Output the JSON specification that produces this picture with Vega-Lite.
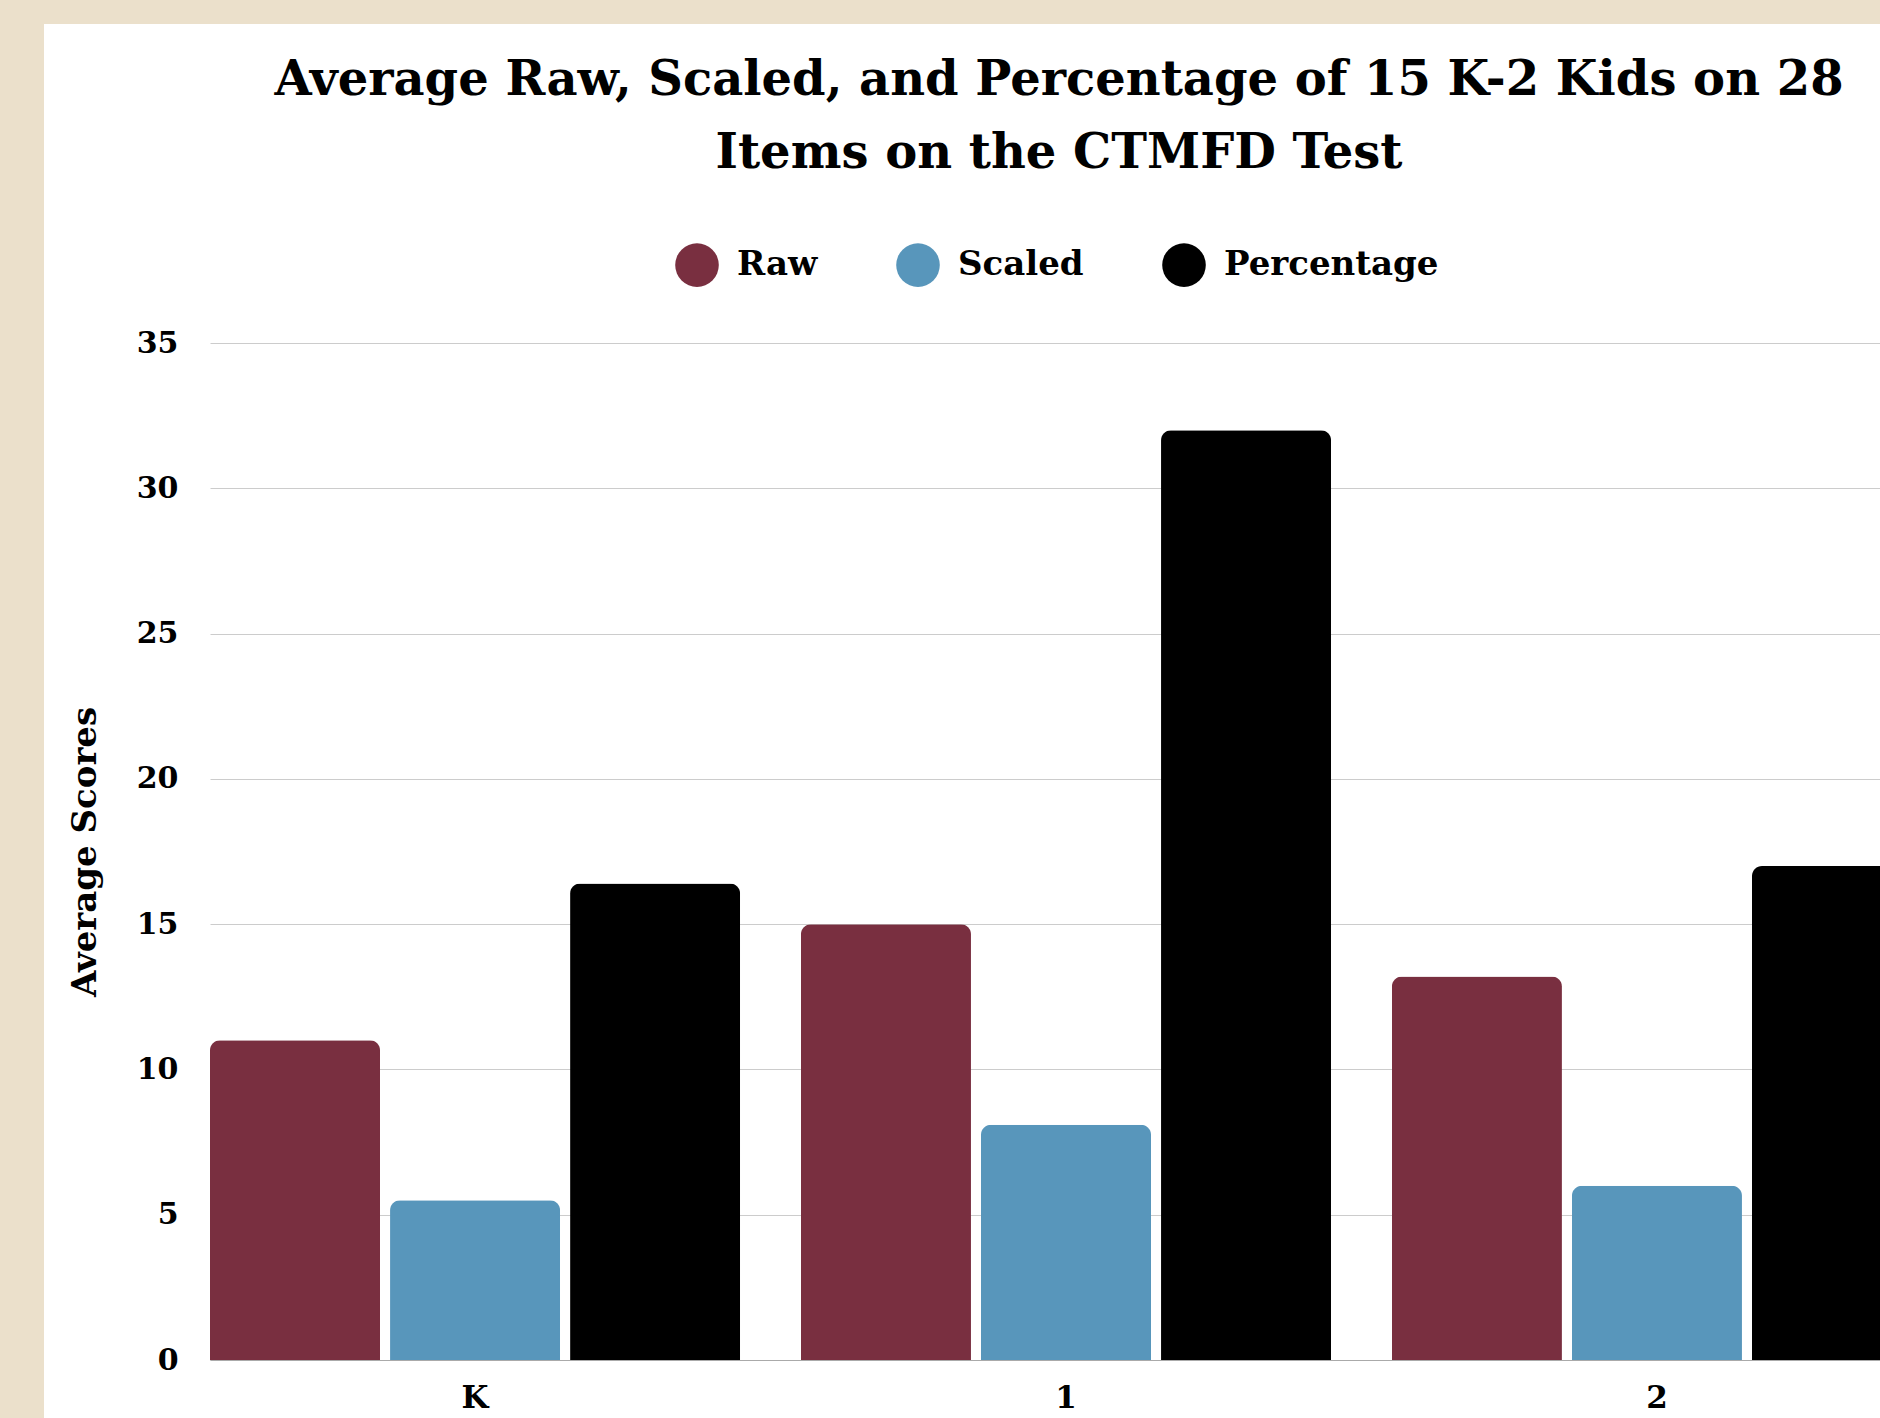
{
  "$schema": "https://vega.github.io/schema/vega-lite/v6.json",
  "autosize": {"type": "none"},
  "width": 1836,
  "height": 1394,
  "padding": {"left": 44, "top": 24, "right": 0, "bottom": 0},
  "background": "#ebe0cb",
  "view": {"fill": "white", "stroke": null},
  "title": {
    "text": ["Average Raw, Scaled, and Percentage of 15 K-2 Kids on 28", "Items on the CTMFD Test"],
    "font": "DejaVu Serif",
    "fontWeight": "bold",
    "fontSize": 48,
    "lineHeight": 73,
    "color": "black",
    "anchor": "middle",
    "frame": "group",
    "dx": 97,
    "offset": -154
  },
  "data": {
    "values": [
      {"Grade": "K", "Measure": "Raw", "Score": 11},
      {"Grade": "K", "Measure": "Scaled", "Score": 5.5},
      {"Grade": "K", "Measure": "Percentage", "Score": 16.4},
      {"Grade": "1", "Measure": "Raw", "Score": 15},
      {"Grade": "1", "Measure": "Scaled", "Score": 8.1},
      {"Grade": "1", "Measure": "Percentage", "Score": 32},
      {"Grade": "2", "Measure": "Raw", "Score": 13.2},
      {"Grade": "2", "Measure": "Scaled", "Score": 6},
      {"Grade": "2", "Measure": "Percentage", "Score": 17}
    ]
  },
  "mark": {"type": "bar", "cornerRadiusTopLeft": 10, "cornerRadiusTopRight": 10},
  "encoding": {
    "x": {
      "field": "Grade",
      "type": "nominal",
      "sort": ["K", "1", "2"],
      "scale": {"range": [166, 1878], "paddingInner": 0.103, "paddingOuter": 0},
      "axis": {
        "title": null,
        "offset": -58,
        "labelAngle": 0,
        "labelFont": "DejaVu Serif",
        "labelFontWeight": "bold",
        "labelFontSize": 31,
        "labelColor": "black",
        "labelPadding": 23,
        "ticks": false,
        "domain": true,
        "domainColor": "#aaaaaa",
        "domainWidth": 1,
        "grid": false
      }
    },
    "xOffset": {
      "field": "Measure",
      "type": "nominal",
      "sort": ["Raw", "Scaled", "Percentage"],
      "scale": {"paddingInner": 0.0556, "paddingOuter": 0}
    },
    "y": {
      "field": "Score",
      "type": "quantitative",
      "scale": {"domain": [0, 35], "range": [1336, 319], "nice": false, "zero": true},
      "axis": {
        "title": "Average Scores",
        "titleFont": "DejaVu Serif",
        "titleFontWeight": "bold",
        "titleFontSize": 34,
        "titleColor": "black",
        "titlePadding": 34,
        "offset": -166,
        "values": [0, 5, 10, 15, 20, 25, 30, 35],
        "labelFont": "DejaVu Serif",
        "labelFontWeight": "bold",
        "labelFontSize": 30,
        "labelColor": "black",
        "labelPadding": 32,
        "ticks": false,
        "domain": false,
        "grid": true,
        "gridColor": "#cccccc",
        "gridWidth": 1
      }
    },
    "color": {
      "field": "Measure",
      "type": "nominal",
      "sort": ["Raw", "Scaled", "Percentage"],
      "scale": {"domain": ["Raw", "Scaled", "Percentage"], "range": ["#792f40", "#5896bb", "#000000"]},
      "legend": {
        "title": null,
        "orient": "none",
        "legendX": 631,
        "legendY": 219,
        "direction": "horizontal",
        "padding": 0,
        "symbolType": "circle",
        "symbolSize": 1900,
        "symbolStrokeWidth": 0,
        "symbolOpacity": 1,
        "labelFont": "DejaVu Serif",
        "labelFontWeight": "bold",
        "labelFontSize": 34,
        "labelColor": "black",
        "labelOffset": 18,
        "columnPadding": 78,
        "labelLimit": 400
      }
    }
  }
}
